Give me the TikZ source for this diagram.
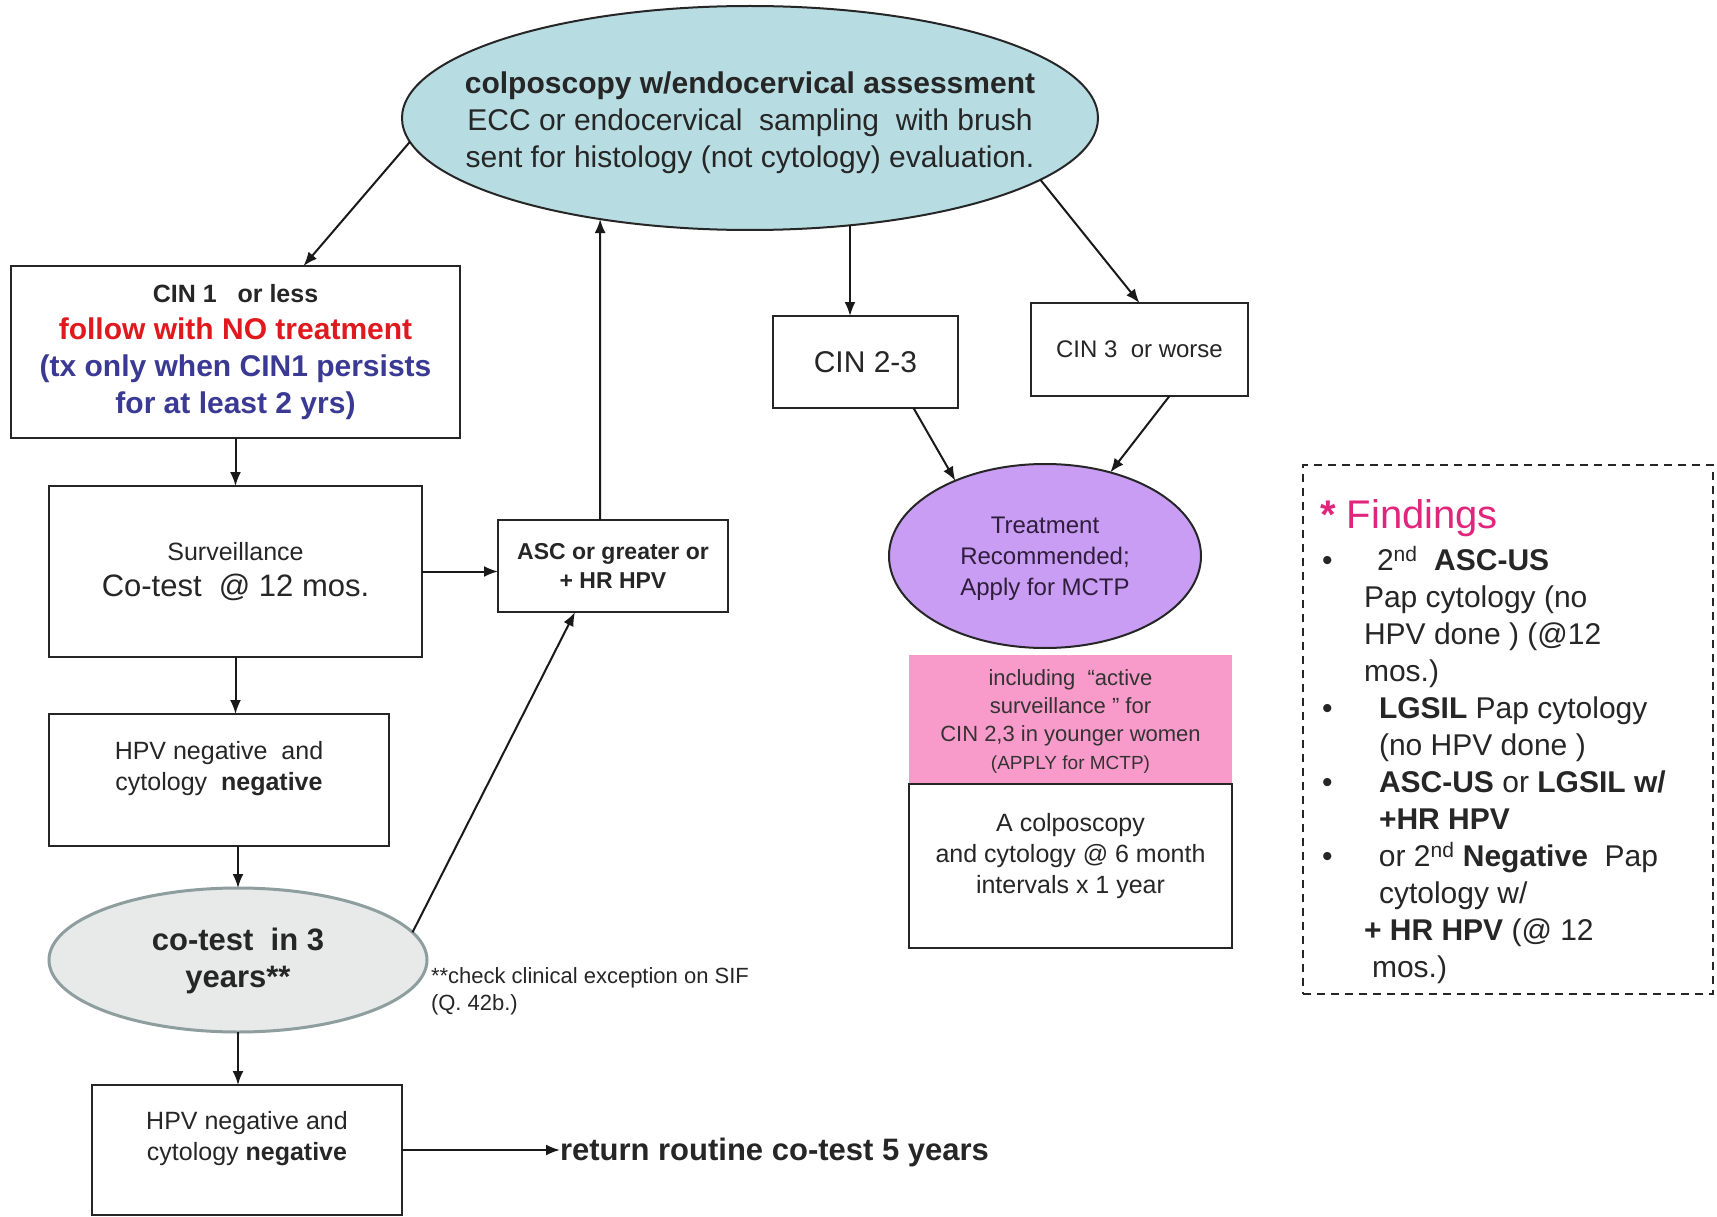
\documentclass[tikz,border=0pt]{standalone}
\usepackage{fontspec}
\setmainfont{Liberation Sans}
\usetikzlibrary{shapes.geometric,arrows.meta}

\definecolor{colpoblue}{HTML}{B7DDE3}
\definecolor{cotestgrey}{HTML}{E8E9E9}
\definecolor{cotestrim}{HTML}{8E9E9F}
\definecolor{treatpurple}{HTML}{C99DF3}
\definecolor{treattext}{HTML}{2E1D3B}
\definecolor{activepink}{HTML}{F99BCA}
\definecolor{followred}{HTML}{E0191E}
\definecolor{txblue}{HTML}{3A3A94}
\definecolor{findpink}{HTML}{E0267C}
\definecolor{inkgrey}{HTML}{262626}

\newcommand{\fsz}[2]{\fontsize{#1}{#2}\selectfont}
\newcommand{\fitem}{\makebox[57pt][l]{\textbullet}}

\begin{document}
\begin{tikzpicture}[x=1pt,y=-1pt]
  \tikzset{BoxStyle/.style = {
    shape         = rectangle,
    draw          = black!85,
    fill          = white,
    line width    = 2.2pt,
    text          = inkgrey,
    align         = center,
    inner sep     = 0pt,
    outer sep     = 0pt
    }
  }
  \tikzset{OvalStyle/.style = {
    shape         = ellipse,
    draw          = black!85,
    line width    = 2pt,
    text          = inkgrey,
    align         = center,
    inner sep     = 0pt,
    outer sep     = 0pt
    }
  }
  \tikzset{TextStyle/.style = {
    text          = inkgrey,
    inner sep     = 0pt,
    outer sep     = 0pt
    }
  }
  \tikzset{ArrowStyle/.style = {
    draw          = black!90,
    line width    = 2pt,
    -{Latex[length=14pt,width=11pt]}
    }
  }

  \path[fill=white, use as bounding box] (0,0) rectangle (1717,1217);

  \node[OvalStyle, fill=colpoblue, minimum width=696, minimum height=224](colpo) at (750,118) {};
  \node[TextStyle, align=center, font=\fsz{30}{37}](colpotext) at ([yshift=-5pt]colpo.center)
    {\textbf{colposcopy w/endocervical assessment}\\ECC or endocervical\ \ sampling\ \ with brush\\sent for histology (not cytology) evaluation.};

  \node[BoxStyle, minimum width=449, minimum height=172, font=\fsz{30}{37}\bfseries](cinone) at (235.5,352)
    {{\fsz{25}{30}CIN 1\ \ \ or less}\\\textcolor{followred}{follow with NO treatment}\\\textcolor{txblue}{(tx only when CIN1 persists}\\\textcolor{txblue}{for at least 2 yrs)}};
  \node[BoxStyle, minimum width=373, minimum height=171, font=\fsz{31}{36}](surv) at (235.5,571.5)
    {{\fsz{25}{30}Surveillance}\\Co-test\ \ @ 12 mos.};
  \node[BoxStyle, minimum width=340, minimum height=132, font=\fsz{25}{31}, text depth=28pt](hpvone) at (219,780)
    {HPV negative\ \ and\\cytology\ \ \textbf{negative}};
  \node[OvalStyle, fill=cotestgrey, draw=cotestrim, line width=3pt, minimum width=378, minimum height=144, font=\fsz{31}{37}\bfseries, text depth=4pt](cotest) at (238,960)
    {co-test\ \ in 3\\years**};
  \node[BoxStyle, minimum width=310, minimum height=130, font=\fsz{25}{31}, text depth=28pt](hpvtwo) at (247,1150)
    {HPV negative and\\cytology \textbf{negative}};
  \node[TextStyle, anchor=west, font=\fsz{31}{37}\bfseries](routine) at (560,1152) {return routine co-test 5 years};
  \node[TextStyle, anchor=north west, align=left, font=\fsz{22}{27}](clinical) at (431,968)
    {**check clinical exception on SIF\\(Q. 42b.)};

  \node[BoxStyle, minimum width=230, minimum height=92, font=\fsz{23}{28.5}\bfseries](asc) at (613,566)
    {ASC or greater or\\+ HR HPV};

  \node[BoxStyle, minimum width=185, minimum height=92, font=\fsz{30}{36}](cintwo) at (865.5,362) {CIN 2-3};
  \node[BoxStyle, minimum width=217, minimum height=93, font=\fsz{24}{30}](cinthree) at (1139.5,349.5) {CIN 3\ \ or worse};
  \node[OvalStyle, fill=treatpurple, text=treattext, minimum width=312, minimum height=184, font=\fsz{24}{31}, text depth=0pt](treat) at (1045,556)
    {Treatment\\Recommended;\\Apply for MCTP};
  \node[BoxStyle, draw=none, fill=activepink, text=black!80, minimum width=323, minimum height=129, font=\fsz{22}{28}, text depth=0pt](active) at (1070.5,719.5)
    {including\ \ “active\\surveillance ” for\\CIN 2,3 in younger women\\{\fsz{19}{24}(APPLY for MCTP)}};
  \node[BoxStyle, minimum width=323, minimum height=164, font=\fsz{25}{31}, text depth=26pt](sixmonth) at (1070.5,866)
    {A colposcopy\\and cytology @ 6 month\\intervals x 1 year};

  \node[BoxStyle, fill=none, line width=1.6pt, dash pattern=on 8pt off 6pt, minimum width=410, minimum height=529](findings) at (1508,729.5) {};
  \node[TextStyle, anchor=west, text=findpink, font=\fsz{40}{46}](findtitle) at (1320,518) {\textbf{*}\ Findings};
  \node[TextStyle, anchor=north west, align=left, text=black!85, font=\fsz{30}{37}](findlist) at (1322,546)
    {\fitem\hspace*{-2pt}2\textsuperscript{nd}\ \ \textbf{ASC-US}\\
     \hspace*{42pt}Pap cytology (no\\
     \hspace*{42pt}HPV done ) (@12\\
     \hspace*{42pt}mos.)\\
     \fitem\textbf{LGSIL} Pap cytology\\
     \hspace*{57pt}(no HPV done )\\
     \fitem\textbf{ASC-US} or \textbf{LGSIL w/}\\
     \hspace*{57pt}\textbf{+HR HPV}\\
     \fitem or 2\textsuperscript{nd} \textbf{Negative}\ \ Pap\\
     \hspace*{57pt}cytology w/\\
     \hspace*{42pt}\textbf{+ HR HPV} (@ 12\\
     \hspace*{50pt}mos.)};

  \draw[ArrowStyle](colpo.184) -- ([xshift=68pt]cinone.north);
  \draw[ArrowStyle](colpo.-47) -- (colpo.-47 |- cintwo.north);
  \draw[ArrowStyle](colpo.-12) -- (cinthree.north);
  \draw[ArrowStyle](cinone) -- (surv);
  \draw[ArrowStyle](surv.east) -- (surv.east -| asc.west);
  \draw[ArrowStyle]([xshift=-13pt]asc.north) -- (colpo.214);
  \draw[ArrowStyle](surv.south) -- (surv.south |- hpvone.north);
  \draw[ArrowStyle](cotest.north |- hpvone.south) -- (cotest.north);
  \draw[ArrowStyle](cotest.9) -- ([xshift=-38pt]asc.south);
  \draw[ArrowStyle](cotest.south) -- (cotest.south |- hpvtwo.north);
  \draw[ArrowStyle](hpvtwo.east) -- (hpvtwo.east -| routine.west);
  \draw[ArrowStyle]([xshift=48pt]cintwo.south) -- (treat.140);
  \draw[ArrowStyle]([xshift=30pt]cinthree.south) -- (treat.52);

\end{tikzpicture}
\end{document}
